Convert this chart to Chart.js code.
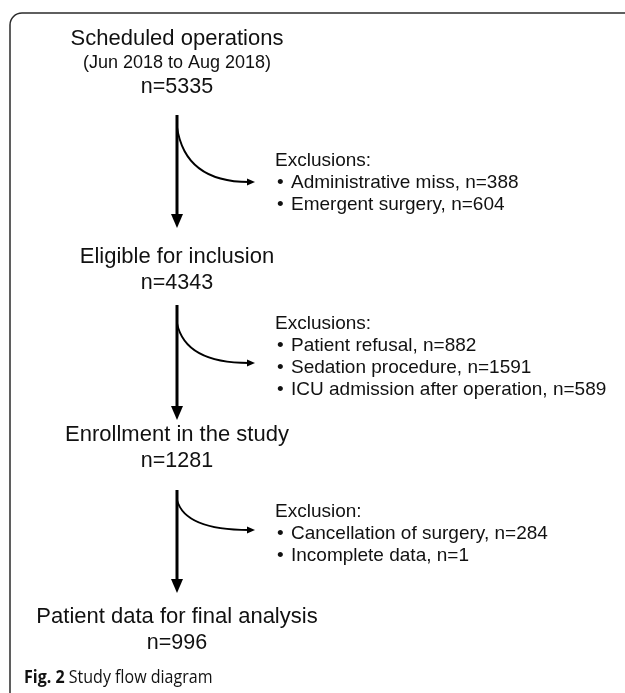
<!DOCTYPE html>
<html>
<head>
<meta charset="utf-8">
<script src="https://cdn.jsdelivr.net/npm/chart.js@4.4.1/dist/chart.umd.min.js"></script>
<style>
  html, body { margin: 0; padding: 0; background: #fff; }
  #flujo { display: block; }
</style>
</head>
<body>
<canvas id="flujo" width="625" height="693"></canvas>
<script>
// Datos del diagrama
const etapas = ["Scheduled operations", "Eligible for inclusion", "Enrollment in the study", "Patient data for final analysis"];
const notasEtapa = ["(Jun 2018 to Aug 2018)", "", "", ""];
const conteos = [5335, 4343, 1281, 996];
const titulosExclusion = ["Exclusions:", "Exclusions:", "Exclusion:"];
const motivos = [
    ["Administrative miss", "Emergent surgery"],
    ["Patient refusal", "Sedation procedure", "ICU admission after operation"],
    ["Cancellation of surgery", "Incomplete data"]
];
const conteosMotivo = [[388, 604], [882, 1591, 589], [284, 1]];
const leyenda = ["Fig. 2", "Study flow diagram"];

// Disposición (coordenadas en unidades de la escala)
const ejeX = 177;
const yTitulo = [39, 257, 435, 617];
const yNota = [63, 0, 0, 0];
const yConteo = [87, 283, 461, 643];
const yFlechaIni = [115, 305, 490];
const yFlechaFin = [228, 420, 593];
const yCurvaIni = [127, 323, 500];
const yCurvaFin = [182, 363, 530];
const xCurvaFin = 255;
const xExclusion = 275;
const yExclusion = [161, 324, 512];
const pasoLinea = 22;
const largoPunta = 14;

const fuente = '"Liberation Sans", Arial, sans-serif';

const tallos = yFlechaIni.map((y0, i) => ({
    data: [{ x: ejeX, y: y0 }, { x: ejeX, y: yFlechaFin[i] - largoPunta + 1 }],
    showLine: true,
    borderColor: "#000",
    borderWidth: 3,
    pointRadius: 0
}));

const dibujoFlujo = {
    id: "dibujoFlujo",
    afterDatasetsDraw(chart) {
        const c = chart.ctx;
        const sx = chart.scales.x, sy = chart.scales.y;
        const px = v => sx.getPixelForValue(v);
        const py = v => sy.getPixelForValue(v);
        c.save();

        // marco
        c.strokeStyle = "#2b2b2b";
        c.lineWidth = 1.5;
        c.beginPath();
        c.moveTo(px(10), py(693));
        c.lineTo(px(10), py(25));
        c.arcTo(px(10), py(13), px(22), py(13), 12);
        c.lineTo(px(625), py(13));
        c.stroke();

        // puntas de las flechas verticales y curvas de exclusión
        c.fillStyle = "#000";
        c.strokeStyle = "#000";
        yFlechaFin.forEach((yf, i) => {
            c.beginPath();
            c.moveTo(px(ejeX - 6), py(yf - largoPunta));
            c.lineTo(px(ejeX + 6), py(yf - largoPunta));
            c.lineTo(px(ejeX), py(yf));
            c.closePath();
            c.fill();

            c.lineWidth = 1.8;
            c.beginPath();
            c.moveTo(px(ejeX), py(yCurvaIni[i]));
            c.quadraticCurveTo(px(ejeX + 8), py(yCurvaFin[i]), px(xCurvaFin - 6), py(yCurvaFin[i]));
            c.stroke();
            c.beginPath();
            c.moveTo(px(xCurvaFin), py(yCurvaFin[i]));
            c.lineTo(px(xCurvaFin - 8), py(yCurvaFin[i] - 3.5));
            c.lineTo(px(xCurvaFin - 8), py(yCurvaFin[i] + 3.5));
            c.closePath();
            c.fill();
        });

        // etapas
        c.fillStyle = "#111";
        c.textAlign = "center";
        c.textBaseline = "middle";
        etapas.forEach((t, i) => {
            c.font = "22px " + fuente;
            c.fillText(t, px(ejeX), py(yTitulo[i]));
            if (notasEtapa[i]) {
                c.font = "18px " + fuente;
                c.fillText(notasEtapa[i], px(ejeX), py(yNota[i]));
            }
            c.font = "21.5px " + fuente;
            c.fillText("n=" + conteos[i], px(ejeX), py(yConteo[i]));
        });

        // exclusiones
        c.textAlign = "left";
        c.font = "19px " + fuente;
        titulosExclusion.forEach((t, i) => {
            c.fillText(t, px(xExclusion), py(yExclusion[i]));
            motivos[i].forEach((m, j) => {
                const y = py(yExclusion[i] + pasoLinea * (j + 1));
                c.fillText("\u2022", px(xExclusion + 2), y);
                c.fillText(m + ", n=" + conteosMotivo[i][j], px(xExclusion + 16), y);
            });
        });

        // leyenda de la figura (Open Sans algo estrechada)
        c.save();
        c.translate(px(24), py(678));
        c.scale(0.89, 1);
        c.font = "bold 18px \"Open Sans\", sans-serif";
        c.fillText(leyenda[0], 0, 0);
        const w = c.measureText(leyenda[0] + " ").width;
        c.font = "18px \"Open Sans\", sans-serif";
        c.fillText(leyenda[1], w, 0);
        c.restore();

        c.restore();
    }
};

const ctx = document.getElementById("flujo").getContext("2d");
const grafico = new Chart(ctx, {
    type: "scatter",
    data: { datasets: tallos },
    options: {
        responsive: false,
        animation: false,
        layout: { padding: 0 },
        plugins: {
            legend: { display: false },
            tooltip: { enabled: false }
        },
        scales: {
            x: { type: "linear", min: 0, max: 625, display: false },
            y: { type: "linear", min: 0, max: 693, reverse: true, display: false }
        }
    },
    plugins: [dibujoFlujo]
});
</script>
</body>
</html>
